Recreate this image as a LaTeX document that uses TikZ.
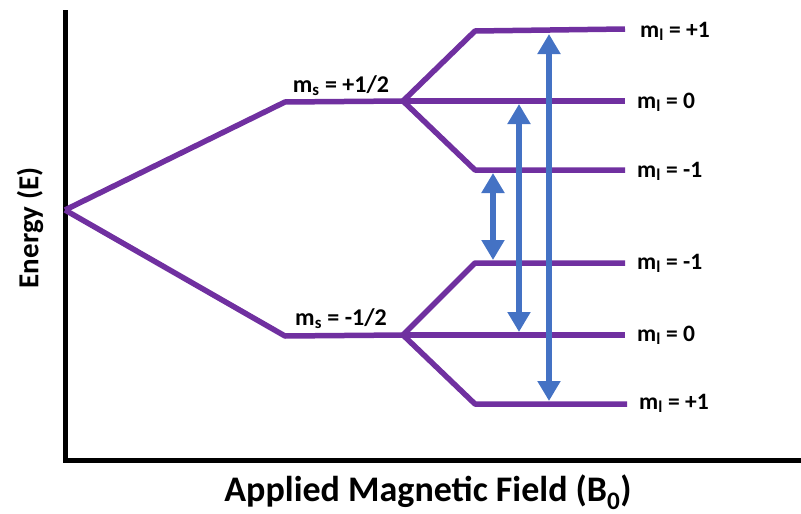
\documentclass[tikz,border=0pt]{standalone}
\usepackage{fontspec}
\setmainfont{Carlito}
\usepackage{tikz}
\usetikzlibrary{arrows.meta,positioning,calc}
\definecolor{levelpurple}{RGB}{112,48,160}
\definecolor{transblue}{RGB}{68,114,196}

\begin{document}
\begin{tikzpicture}[
  x=1pt, y=-1pt,
  font=\bfseries,
  lvl/.style={levelpurple, line width=5.5pt, line join=round},
  ax/.style={black, line width=5pt},
  tr/.style={transblue, line width=5.5pt,
             {Triangle[width=22pt,length=20pt]}-{Triangle[width=22pt,length=20pt]}},
  ml/.style={anchor=base west, font=\bfseries\fontsize{23.5}{26}\selectfont, inner sep=0pt},
  ms/.style={anchor=base, font=\bfseries\fontsize{24}{27}\selectfont, inner sep=0pt}
]
\useasboundingbox (0,0) rectangle (801,514);

% axes
\coordinate (top) at (65,10);
\coordinate (corner) at (65,460);
\coordinate (far) at (801,460);
\draw[ax] (top) -- (corner) -- (far);
\node[rotate=90, font=\bfseries\fontsize{29}{33}\selectfont] (elabel) at (30,228) {Energy (E)};
\node[font=\bfseries\fontsize{36}{40}\selectfont] (blabel) at (428,492) {Applied Magnetic Field (B\textsubscript{0})};

% electron spin levels
\coordinate (o) at (65,210);
\coordinate (su) at (285,102);
\coordinate (sub) at (403,101);
\coordinate (sd) at (285,336);
\coordinate (sdb) at (403,335);
\draw[lvl] (o) -- (su) -- (sub);
\draw[lvl] (o) -- (sd) -- (sdb);
\node[ms] (msup) at (341,92) {m\textsubscript{s} = +1/2};
\node[ms] (msdn) at (341,325) {m\textsubscript{s} = -1/2};

% nuclear spin levels
\coordinate (u1) at (625,29);
\coordinate (u0) at (625,101);
\coordinate (um) at (625,170);
\coordinate (dm) at (625,263);
\coordinate (d0) at (625,335);
\coordinate (d1) at (627,404);
\draw[lvl] (sub) -- (475,31) -- (u1);
\draw[lvl] (sub) -- (u0);
\draw[lvl] (sub) -- (475,170) -- (um);
\draw[lvl] (sdb) -- (475,263) -- (dm);
\draw[lvl] (sdb) -- (d0);
\draw[lvl] (sdb) -- (475,404) -- (d1);

\node[ml] (lu1) at ($(u1)+(15,8)$) {m\textsubscript{l} = +1};
\node[ml] (lu0) at ($(u0)+(12,7)$) {m\textsubscript{l} = 0};
\node[ml] (lum) at ($(um)+(12,7)$) {m\textsubscript{l} = -1};
\node[ml] (ldm) at ($(dm)+(12,6)$) {m\textsubscript{l} = -1};
\node[ml] (ld0) at ($(d0)+(12,6)$) {m\textsubscript{l} = 0};
\node[ml] (ld1) at ($(d1)+(12,5)$) {m\textsubscript{l} = +1};

% transitions
\coordinate (a1t) at (493,173);
\coordinate (a1b) at (493,260);
\coordinate (a2t) at (519,104);
\coordinate (a2b) at (519,332);
\coordinate (a3t) at (549,34);
\coordinate (a3b) at (549,401);
\draw[tr] (a1t) -- (a1b);
\draw[tr] (a2t) -- (a2b);
\draw[tr] (a3t) -- (a3b);
\end{tikzpicture}
\end{document}
